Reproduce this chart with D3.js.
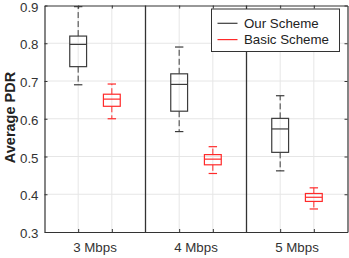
<!DOCTYPE html>
<html>
<head>
<meta charset="utf-8">
<script src="https://cdn.jsdelivr.net/npm/d3@7"></script>
<style>
  body { margin: 0; background: #fff; }
  text { font-family: Arial, "Liberation Sans", sans-serif; }
</style>
</head>
<body>
<div id="chart"></div>
<script>
// Categories and box stats: [lower whisker, q1, median, q3, upper whisker]
const categories = ['3 Mbps', '4 Mbps', '5 Mbps'];
const ourScheme = [
  [0.690, 0.738, 0.797, 0.819, 0.897],
  [0.566, 0.620, 0.691, 0.719, 0.790],
  [0.462, 0.511, 0.573, 0.601, 0.661]
];
const basicScheme = [
  [0.600, 0.633, 0.652, 0.665, 0.692],
  [0.455, 0.478, 0.493, 0.505, 0.526],
  [0.361, 0.381, 0.392, 0.402, 0.417]
];
const yTicks = [0.3, 0.4, 0.5, 0.6, 0.7, 0.8, 0.9];
const seriesNames = ['Our Scheme', 'Basic Scheme'];

const width = 349, height = 258;
const colorOur = '#3c3c3c';
const colorBasic = '#ff2a2a';
const fontSize = '13.3px';

const svg = d3.select('#chart').append('svg')
  .attr('width', width)
  .attr('height', height);

// x positions: groups at 1,2 / 4,5 / 7,8 with separators at 3 and 6
const x = d3.scaleLinear().domain([0, 9]).range([44.5, 347.5]);
const y = d3.scaleLinear().domain([0.3, 0.9]).range([232, 5.5]);
const boxPos = [];
categories.forEach((c, i) => { boxPos.push(1 + 3 * i, 2 + 3 * i); });

// grid lines
svg.append('g').selectAll('line.hg')
  .data(yTicks.slice(1, -1)).enter().append('line')
  .attr('x1', x(0)).attr('x2', x(9))
  .attr('y1', d => y(d)).attr('y2', d => y(d))
  .attr('stroke', '#e6e6e6').attr('stroke-width', 1);

svg.append('g').selectAll('line.vg')
  .data(boxPos).enter().append('line')
  .attr('x1', d => x(d)).attr('x2', d => x(d))
  .attr('y1', y(0.3)).attr('y2', y(0.9))
  .attr('stroke', '#e6e6e6').attr('stroke-width', 1);

// group separators
svg.append('g').selectAll('line.sep')
  .data([3, 6]).enter().append('line')
  .attr('x1', d => x(d)).attr('x2', d => x(d))
  .attr('y1', y(0.3)).attr('y2', y(0.9))
  .attr('stroke', '#333').attr('stroke-width', 1.3);

// axes
const yAxisL = d3.axisLeft(y).tickValues(yTicks).tickSizeInner(-3).tickSizeOuter(0)
  .tickPadding(6).tickFormat(d3.format('.1f'));
const gy = svg.append('g').attr('transform', `translate(${x(0)},0)`).call(yAxisL);
gy.selectAll('text').style('font-size', fontSize).attr('fill', '#333').attr('dy', '0.42em');

const yAxisR = d3.axisRight(y).tickValues(yTicks).tickSizeInner(-3).tickSizeOuter(0).tickFormat('');
svg.append('g').attr('transform', `translate(${x(9)},0)`).call(yAxisR);

const xAxisB = d3.axisBottom(x).tickValues(boxPos).tickSizeInner(-3).tickSizeOuter(0).tickFormat('');
svg.append('g').attr('transform', `translate(0,${y(0.3)})`).call(xAxisB);
const xAxisT = d3.axisTop(x).tickValues(boxPos).tickSizeInner(-3).tickSizeOuter(0).tickFormat('');
svg.append('g').attr('transform', `translate(0,${y(0.9)})`).call(xAxisT);

svg.selectAll('.domain').attr('stroke', '#333').attr('stroke-width', 1.2);
svg.selectAll('.tick line').attr('stroke', '#333');

// category labels
svg.append('g').selectAll('text.cat')
  .data(categories).enter().append('text')
  .attr('x', (d, i) => x(1.5 + 3 * i))
  .attr('y', 251.5)
  .attr('text-anchor', 'middle')
  .style('font-size', fontSize)
  .attr('fill', '#333')
  .text(d => d);

// y label
svg.append('text')
  .attr('transform', 'rotate(-90)')
  .attr('x', -117.5)
  .attr('y', 15)
  .attr('text-anchor', 'middle')
  .style('font-size', '14.5px')
  .style('font-weight', 'bold')
  .attr('fill', '#222')
  .text('Average PDR');

// boxes
const boxW = x(0.5) - x(0);
const capW = boxW / 2;
function drawBox(stats, pos, color) {
  const g = svg.append('g');
  const cx = x(pos);
  // whiskers (dashed)
  g.append('line').attr('x1', cx).attr('x2', cx)
    .attr('y1', y(stats[3])).attr('y2', y(stats[4]))
    .attr('stroke', color).attr('stroke-dasharray', '6,3').attr('stroke-width', 1);
  g.append('line').attr('x1', cx).attr('x2', cx)
    .attr('y1', y(stats[1])).attr('y2', y(stats[0]))
    .attr('stroke', color).attr('stroke-dasharray', '6,3').attr('stroke-width', 1);
  // caps
  [stats[0], stats[4]].forEach(v => {
    g.append('line').attr('x1', cx - capW / 2).attr('x2', cx + capW / 2)
      .attr('y1', y(v)).attr('y2', y(v))
      .attr('stroke', color).attr('stroke-width', 1.2);
  });
  // box
  g.append('rect')
    .attr('x', cx - boxW / 2).attr('width', boxW)
    .attr('y', y(stats[3])).attr('height', y(stats[1]) - y(stats[3]))
    .attr('fill', 'none').attr('stroke', color).attr('stroke-width', 1.2);
  // median
  g.append('line').attr('x1', cx - boxW / 2).attr('x2', cx + boxW / 2)
    .attr('y1', y(stats[2])).attr('y2', y(stats[2]))
    .attr('stroke', color).attr('stroke-width', 1.2);
}
ourScheme.forEach((s, i) => drawBox(s, 1 + 3 * i, colorOur));
basicScheme.forEach((s, i) => drawBox(s, 2 + 3 * i, colorBasic));

// legend
const legend = svg.append('g').attr('transform', 'translate(211.5,9)');
legend.append('rect')
  .attr('width', 128).attr('height', 42.5)
  .attr('fill', '#fff').attr('stroke', '#333').attr('stroke-width', 1);
[colorOur, colorBasic].forEach((c, i) => {
  legend.append('line')
    .attr('x1', 6).attr('x2', 26)
    .attr('y1', 14.3 + 16.3 * i).attr('y2', 14.3 + 16.3 * i)
    .attr('stroke', c).attr('stroke-width', 1.2);
  legend.append('text')
    .attr('x', 32.5).attr('y', 18.5 + 16.5 * i)
    .style('font-size', fontSize)
    .attr('fill', '#222')
    .text(seriesNames[i]);
});
</script>
</body>
</html>
